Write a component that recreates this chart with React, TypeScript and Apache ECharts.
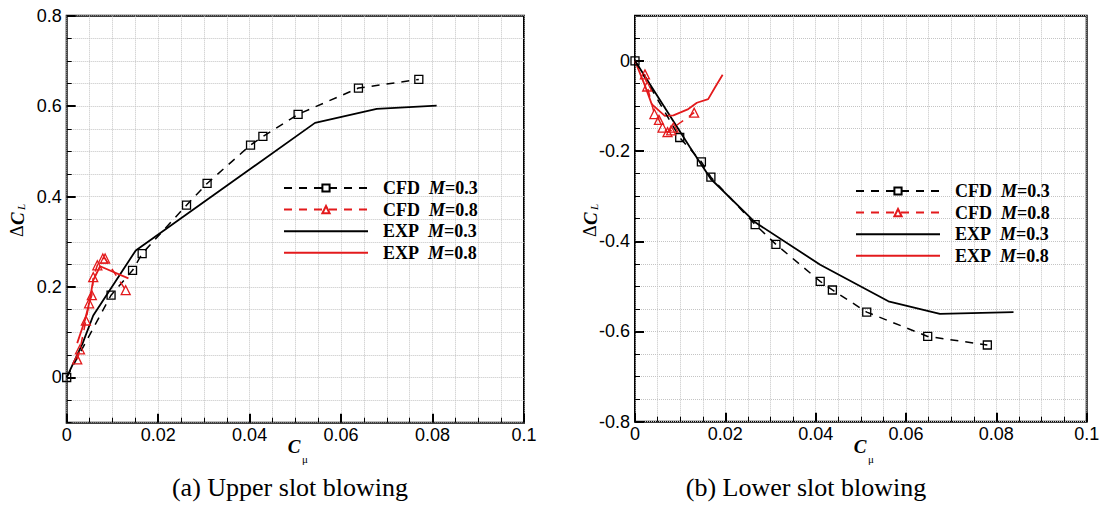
import React, { useEffect, useRef } from "react";
import * as echarts from "echarts";

// ---- tick labels ----
const upperYTicks = [0, 0.2, 0.4, 0.6, 0.8];
const lowerYTicks = [-0.8, -0.6, -0.4, -0.2, 0];
const legendNames = ["CFD M=0.3", "CFD M=0.8", "EXP M=0.3", "EXP M=0.8"];
const captions = ["(a) Upper slot blowing", "(b) Lower slot blowing"];

// ---- (a) Upper slot blowing: [Cmu, dCL] ----
const upperCfdM03 = [
  [0, 0], [0.0097, 0.182], [0.0144, 0.237], [0.0165, 0.274], [0.0262, 0.381],
  [0.0307, 0.429], [0.0402, 0.514], [0.0429, 0.533], [0.0506, 0.582],
  [0.0638, 0.64], [0.077, 0.659],
];
const upperCfdM08 = [
  [0.0023, 0.04], [0.0029, 0.062], [0.0042, 0.126], [0.0049, 0.164],
  [0.0055, 0.182], [0.0058, 0.222], [0.0067, 0.248], [0.0079, 0.263],
  [0.0084, 0.263], [0.0129, 0.193],
];
const upperExpM03 = [
  [0, 0], [0.0035, 0.076], [0.0058, 0.137], [0.0151, 0.281], [0.0543, 0.563],
  [0.0678, 0.594], [0.0809, 0.601],
];
const upperExpM08 = [
  [0.0023, 0.076], [0.004, 0.127], [0.0049, 0.164], [0.0058, 0.215],
  [0.0073, 0.246], [0.0135, 0.219],
];

// ---- (b) Lower slot blowing ----
const lowerCfdM03 = [
  [0, 0], [0.0099, -0.17], [0.0147, -0.224], [0.0168, -0.258], [0.0266, -0.363],
  [0.0312, -0.407], [0.041, -0.489], [0.0437, -0.508], [0.0513, -0.557],
  [0.0648, -0.611], [0.078, -0.63],
];
const lowerCfdM08 = [
  [0.0022, -0.03], [0.0027, -0.057], [0.0043, -0.118], [0.0053, -0.131],
  [0.0061, -0.148], [0.0072, -0.158], [0.008, -0.154], [0.0085, -0.148],
  [0.0131, -0.115],
];
const lowerExpM03 = [
  [0, 0], [0.0122, -0.192], [0.0168, -0.262], [0.0266, -0.358], [0.041, -0.452],
  [0.0561, -0.533], [0.0675, -0.561], [0.0838, -0.557],
];
const lowerExpM08 = [
  [0, 0], [0.0022, -0.055], [0.0037, -0.096], [0.0066, -0.122], [0.0085, -0.121],
  [0.0118, -0.107], [0.0137, -0.093], [0.0162, -0.085], [0.0177, -0.059],
  [0.0194, -0.031],
];

const RED = "#e31a1c";
const BLACK = "#000";
const SANS = "'Liberation Sans', Arial, sans-serif";
const SERIF = "'Liberation Serif', 'Times New Roman', serif";
const GRIDLINE = { show: true, lineStyle: { color: "#c4c4c4", type: "dotted" as const, width: 1 } };

const fmt = (v: number) => String(Math.round(v * 1000) / 1000);

function cfd(name: string, data: number[][], color: string, symbol: string, size: number, g: number) {
  return {
    type: "line", name, data, xAxisIndex: g, yAxisIndex: g * 2,
    symbol, symbolSize: size, showSymbol: true,
    lineStyle: { color, width: 1.5, type: [8, 7] },
    itemStyle: { color: "rgba(255,255,255,0)", borderColor: color, borderWidth: 1.3 },
    z: 4,
  };
}
function exp(name: string, data: number[][], color: string, g: number) {
  return {
    type: "line", name, data, xAxisIndex: g, yAxisIndex: g * 2,
    symbol: "none", showSymbol: false,
    lineStyle: { color, width: 1.8, type: "solid" },
    itemStyle: { color },
    z: 3,
  };
}

function xAxis(g: number) {
  return {
    gridIndex: g, type: "value", min: 0, max: 0.1, interval: 0.02, position: "bottom",
    axisLine: { show: false, onZero: false },
    axisTick: { show: true, inside: true, length: 9, lineStyle: { color: BLACK, width: 2 } },
    minorTick: { show: true, splitNumber: 4, length: 5, lineStyle: { color: BLACK, width: 1 } },
    splitLine: GRIDLINE,
    minorSplitLine: GRIDLINE,
    axisLabel: { margin: 3, fontFamily: SANS, fontSize: 18, color: BLACK, formatter: fmt },
  };
}
function yAxes(g: number, min: number, max: number, ticks: number[]) {
  return [
    {
      gridIndex: g, type: "value", min, max, interval: 0.05, position: "left",
      axisLine: { show: false, onZero: false },
      axisTick: { show: true, inside: true, length: 9, customValues: ticks, lineStyle: { color: BLACK, width: 2 } },
      axisLabel: { customValues: ticks, margin: 5, fontFamily: SANS, fontSize: 18, color: BLACK, formatter: fmt },
      splitLine: { show: false },
    },
    {
      gridIndex: g, type: "value", min, max, interval: 0.05, position: "left",
      axisLine: { show: false, onZero: false },
      axisTick: { show: true, inside: true, length: 5, lineStyle: { color: BLACK, width: 1 } },
      axisLabel: { show: false },
      splitLine: GRIDLINE,
    },
  ];
}

const legendRich = {
  t: { fontFamily: SERIF, fontWeight: "bold", fontSize: 18, color: BLACK, lineHeight: 18 },
  i: { fontFamily: SERIF, fontWeight: "bold", fontStyle: "italic", fontSize: 18, color: BLACK, lineHeight: 18 },
};
function legend(left: number, top: number) {
  return {
    left, top, orient: "vertical", align: "left",
    itemWidth: 84, itemHeight: 9, itemGap: 3.6, selectedMode: false,
    data: legendNames.map((n) =>
      n.startsWith("EXP") ? { name: n, itemStyle: { opacity: 0 } } : { name: n }
    ),
    formatter: (name: string) => {
      const [a, b] = name.split(" ");
      return `{t|${a}}{t|  }{i|M}{t|${b.slice(1)}}`;
    },
    textStyle: { padding: [0, 0, 0, 10], fontFamily: SERIF, fontSize: 18, color: BLACK, rich: legendRich },
  };
}

function xTitle(cx: number) {
  return [
    { type: "text", x: cx, y: 446, style: { text: "C", font: `italic bold 19px ${SERIF}`, fill: BLACK, align: "center", verticalAlign: "middle" } },
    { type: "text", x: cx + 11, y: 459, style: { text: "μ", font: `11px ${SERIF}`, fill: BLACK, align: "center", verticalAlign: "middle" } },
  ];
}
function yTitle(cx: number, bottom: number) {
  return {
    type: "group", x: cx, y: bottom, rotation: Math.PI / 2,
    children: [
      { type: "text", x: 0, y: 0, style: { text: "Δ", font: `18px ${SERIF}`, fill: BLACK, align: "left", verticalAlign: "middle" } },
      { type: "text", x: 12, y: 0, style: { text: "C", font: `italic bold 19px ${SERIF}`, fill: BLACK, align: "left", verticalAlign: "middle" } },
      { type: "text", x: 27, y: 4, style: { text: "L", font: `italic 11px ${SERIF}`, fill: BLACK, align: "left", verticalAlign: "middle" } },
    ],
  };
}

export default function App() {
  const ref = useRef<HTMLDivElement>(null);
  useEffect(() => {
    if (!ref.current) return;
    const chart = echarts.init(ref.current, null, { renderer: "svg" });
    const option: any = {
      animation: false,
      backgroundColor: "#fff",
      grid: [
        { left: 66.7, top: 15.7, width: 457.3, height: 407, show: true, borderColor: BLACK, borderWidth: 2, backgroundColor: "rgba(0,0,0,0)" },
        { left: 635, top: 15.7, width: 451.7, height: 406, show: true, borderColor: BLACK, borderWidth: 2, backgroundColor: "rgba(0,0,0,0)" },
      ],
      xAxis: [xAxis(0), xAxis(1)],
      yAxis: [...yAxes(0, -0.1, 0.8, upperYTicks), ...yAxes(1, -0.8, 0.1, lowerYTicks)],
      legend: [legend(278, 174), legend(850, 177)],
      series: [
        cfd(legendNames[0], upperCfdM03, BLACK, "rect", 8, 0),
        cfd(legendNames[1], upperCfdM08, RED, "triangle", 9, 0),
        exp(legendNames[2], upperExpM03, BLACK, 0),
        exp(legendNames[3], upperExpM08, RED, 0),
        cfd(legendNames[0], lowerCfdM03, BLACK, "rect", 8, 1),
        cfd(legendNames[1], lowerCfdM08, RED, "triangle", 9, 1),
        exp(legendNames[2], lowerExpM03, BLACK, 1),
        exp(legendNames[3], lowerExpM08, RED, 1),
      ],
      graphic: [
        ...xTitle(294),
        ...xTitle(860),
        yTitle(17, 237),
        yTitle(590, 237),
        { type: "text", x: 290, y: 487, style: { text: captions[0], font: `26px ${SERIF}`, fill: BLACK, align: "center", verticalAlign: "middle" } },
        { type: "text", x: 806, y: 487, style: { text: captions[1], font: `26px ${SERIF}`, fill: BLACK, align: "center", verticalAlign: "middle" } },
      ],
    };
    chart.setOption(option);
    return () => chart.dispose();
  }, []);
  return (
    <div
      ref={ref}
      style={{ position: "fixed", left: 0, top: 0, width: 1109, height: 509, background: "#fff" }}
    />
  );
}
